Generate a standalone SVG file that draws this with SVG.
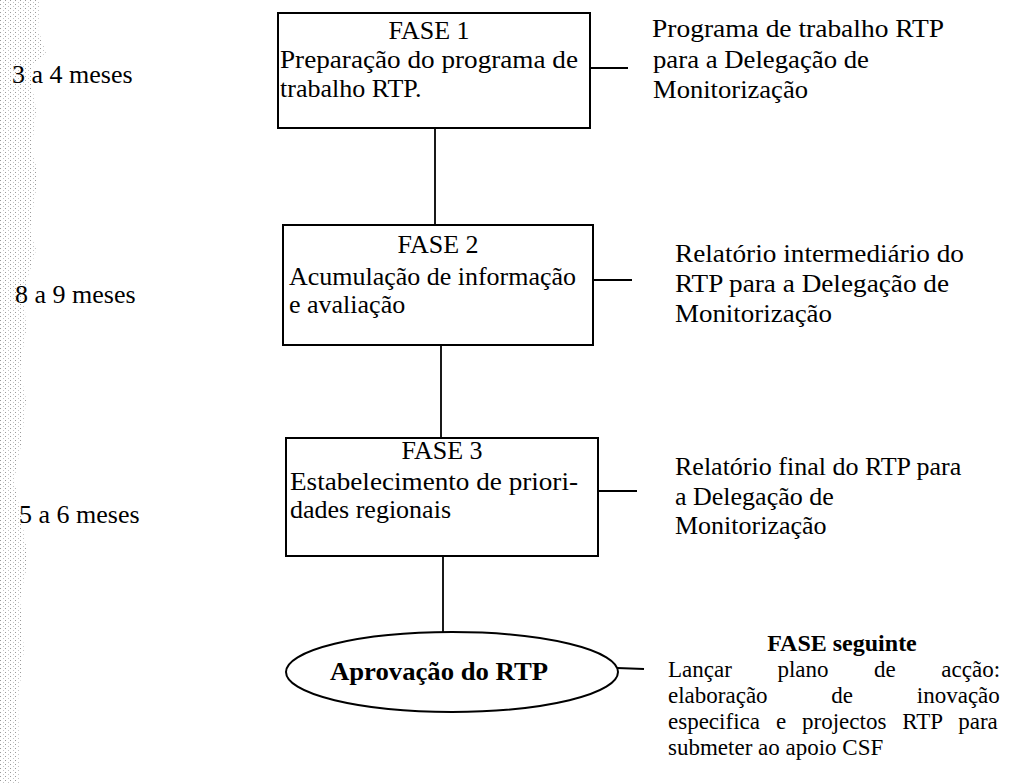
<svg xmlns="http://www.w3.org/2000/svg" width="1011" height="783" viewBox="0 0 1011 783">
  <defs>
    <!-- fine speckle used along the left margin -->
    <pattern id="speckle" width="5" height="4" patternUnits="userSpaceOnUse">
      <rect x="0" y="0" width="1" height="1" fill="#9a9a9a"/>
      <rect x="3" y="2" width="1" height="1" fill="#c4c4c4"/>
    </pattern>
    <style>
      .box { fill: #fff; stroke: #000; stroke-width: 2; }
      .ln { stroke: #000; stroke-width: 1.8; fill: none; }
      text { font-family: "Liberation Serif", "Times New Roman", serif; font-size: 26px; fill: #000; }
      .b { font-weight: bold; }
      .p { font-size: 23px; }
      .h { font-size: 24px; }
      .c { text-anchor: middle; }
    </style>
  </defs>

  <rect width="1011" height="783" fill="#fff"/>

  <!-- speckled left margin -->
  <polygon fill="url(#speckle)" points="0,0 40,0 38,30 46,52 30,70 36,110 32,150 38,175 30,230 36,250 24,290 26,330 20,370 26,400 22,440 14,480 22,520 28,560 20,600 24,650 18,700 20,783 0,783"/>

  <!-- connectors -->
  <g id="connectors">
    <line class="ln" x1="435" y1="128" x2="435" y2="225"/>
    <line class="ln" x1="441" y1="345" x2="441" y2="438"/>
    <line class="ln" x1="443" y1="556" x2="443" y2="632"/>
    <line class="ln" x1="590" y1="68" x2="628" y2="68"/>
    <line class="ln" x1="593" y1="280" x2="632" y2="280"/>
    <line class="ln" x1="598" y1="491" x2="637" y2="491"/>
    <line class="ln" x1="617" y1="668" x2="644" y2="669"/>
  </g>

  <!-- phase 1 -->
  <g id="fase1">
    <rect class="box" x="278" y="13" width="312" height="115"/>
    <text class="c" x="429" y="39">FASE 1</text>
    <text x="280" y="68" textLength="298" lengthAdjust="spacingAndGlyphs">Preparação do programa de</text>
    <text x="280" y="97">trabalho RTP.</text>
  </g>

  <!-- phase 2 -->
  <g id="fase2">
    <rect class="box" x="283" y="225" width="310" height="120"/>
    <text class="c" x="438" y="253">FASE 2</text>
    <text x="289" y="285" textLength="287" lengthAdjust="spacingAndGlyphs">Acumulação de informação</text>
    <text x="289" y="313">e avaliação</text>
  </g>

  <!-- phase 3 -->
  <g id="fase3">
    <rect class="box" x="286" y="438" width="312" height="118"/>
    <text class="c" x="442" y="459">FASE 3</text>
    <text x="290" y="490" textLength="288" lengthAdjust="spacingAndGlyphs">Estabelecimento de priori-</text>
    <text x="290" y="518">dades regionais</text>
  </g>

  <!-- approval -->
  <g id="aprovacao">
    <ellipse class="box" cx="452" cy="672" rx="166" ry="40"/>
    <text class="b" x="330" y="680" textLength="218" lengthAdjust="spacingAndGlyphs">Aprovação do RTP</text>
  </g>

  <!-- durations -->
  <g id="duracoes">
    <text x="12" y="83">3 a 4 meses</text>
    <text x="15" y="303">8 a 9 meses</text>
    <text x="19" y="523">5 a 6 meses</text>
  </g>

  <!-- outputs -->
  <g id="saida1">
    <text x="652" y="37" textLength="292" lengthAdjust="spacingAndGlyphs">Programa de trabalho RTP</text>
    <text x="653" y="68" textLength="216" lengthAdjust="spacingAndGlyphs">para a Delegação de</text>
    <text x="653" y="98" textLength="155" lengthAdjust="spacingAndGlyphs">Monitorização</text>
  </g>
  <g id="saida2">
    <text x="675" y="262" textLength="289" lengthAdjust="spacingAndGlyphs">Relatório intermediário do</text>
    <text x="675" y="292" textLength="274" lengthAdjust="spacingAndGlyphs">RTP para a Delegação de</text>
    <text x="675" y="322" textLength="157" lengthAdjust="spacingAndGlyphs">Monitorização</text>
  </g>
  <g id="saida3">
    <text x="675" y="475">Relatório final do RTP para</text>
    <text x="675" y="505">a Delegação de</text>
    <text x="675" y="534">Monitorização</text>
  </g>

  <!-- next phase: justified paragraph, lines spread with word spacing -->
  <g id="fase-seguinte">
    <text class="b h c" x="842" y="651">FASE seguinte</text>
    <text class="p" x="668" y="677" word-spacing="39.8">Lançar plano de acção:</text>
    <text class="p" x="668" y="703" word-spacing="58">elaboração de inovação</text>
    <text class="p" x="668" y="729" word-spacing="10.2">especifica e projectos RTP para</text>
    <text class="p" x="668" y="755">submeter ao apoio CSF</text>
  </g>
</svg>
